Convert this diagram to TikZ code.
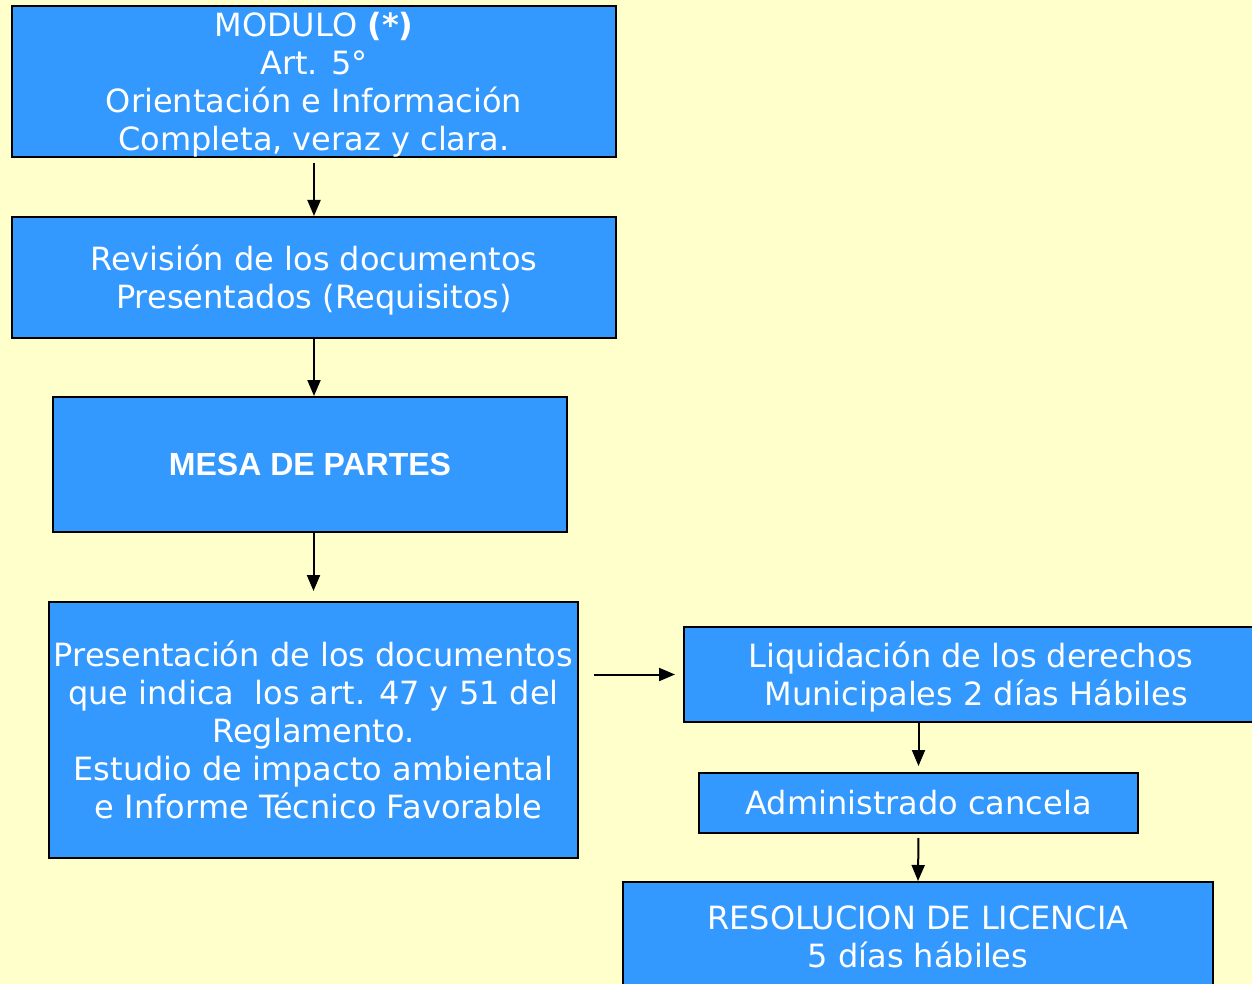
\documentclass[tikz,border=0pt]{standalone}
\usepackage{fontspec}
\setmainfont{DejaVu Sans}
\newfontfamily\mesafont{Liberation Sans}
\usepackage{tikz}
\usepackage{xcolor}
\usetikzlibrary{arrows.meta,positioning}
\definecolor{fondo}{HTML}{FFFFCC}
\definecolor{caja}{HTML}{3399FF}

\begin{document}
\begin{tikzpicture}[x=0.5pt,y=-0.5pt,
  paso/.style={draw=black,line width=1pt,fill=caja,text=white,align=center,
    inner sep=0pt,font=\fontsize{16}{19}\selectfont},
  flecha/.style={line width=1pt,-{Triangle[length=8pt,width=6.5pt]}}]
\useasboundingbox[fill=fondo] (0,0) rectangle (1252,984);
\node[paso,minimum width=302pt,minimum height=75.5pt] (mod) at (314,81.5)
  {\rule{0pt}{15.5pt}MODULO \textbf{(*)}\\Art. 5°\\Orientación e Información\\Completa, veraz y clara.};
\node[paso,minimum width=302pt,minimum height=60.5pt] (rev) at (314,277.5)
  {\rule{0pt}{15pt}Revisión de los documentos\\Presentados (Requisitos)};
\node[paso,minimum width=257pt,minimum height=67.5pt,font=\mesafont\bfseries\fontsize{16}{19}\selectfont] (mesa) at (310,464.5)
  {MESA DE PARTES};
\node[paso,minimum width=264.5pt,minimum height=128pt] (pres) at (313.5,730)
  {Presentación de los documentos\\que indica\ \ los art. 47 y 51 del\\Reglamento.\\Estudio de impacto ambiental\\\ e Informe Técnico Favorable};
\node[paso,minimum width=287pt,minimum height=47.5pt] (liq) at (971,674.5)
  {\rule{0pt}{15pt}Liquidación de los derechos\\\ Municipales 2 días Hábiles};
\node[paso,minimum width=219.5pt,minimum height=30pt] (adm) at (918.5,803)
  {Administrado cancela};
\node[paso,minimum width=295pt,minimum height=55pt] (res) at (918,937)
  {RESOLUCION DE LICENCIA\\5 días hábiles};
\draw[flecha,shorten <=2.5pt] (mod.south) -- (rev.north);
\draw[flecha] (rev.south) -- (rev.south |- mesa.north);
\draw[flecha,shorten >=5pt] (pres.north |- mesa.south) -- (pres.north);
\draw[flecha,shorten <=7.5pt,shorten >=4pt] (pres.east |- liq.west) -- (liq.west);
\draw[flecha,shorten >=3pt] (adm.north |- liq.south) -- (adm.north);
\draw[flecha,shorten <=2pt] (adm.south) -- (res.north);
\end{tikzpicture}
\end{document}
